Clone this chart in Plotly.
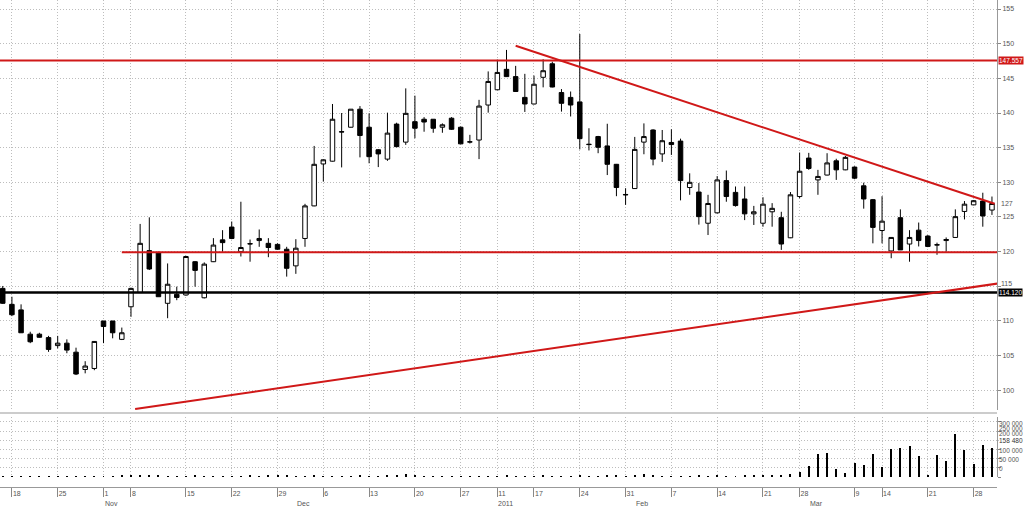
import plotly.graph_objects as go

# ---------------- data ----------------
opens = [114.7, 112.4, 111.6, 108.1, 108.1, 107.6, 106.45, 106.8, 105.5, 103.0,
         103.15, 110.0, 110.0, 107.35, 112.05, 114.1, 120.15, 119.85, 112.55, 113.85,
         113.75, 118.55, 113.35, 118.55, 121.7, 123.55, 120.0, 121.1, 121.6, 121.2,
         121.05, 120.35, 117.95, 121.9, 126.6, 132.65, 133.05, 137.25, 137.95, 140.55,
         137.95, 134.7, 133.35, 138.4, 135.8, 138.75, 139.1, 139.1, 137.95, 139.25,
         137.95, 135.8, 136.1, 141.15, 143.35, 146.3, 145.25, 142.25, 141.3, 145.15,
         147.1, 142.95, 142.25, 141.6, 135.5, 136.6, 135.25, 132.6, 128.25, 129.1,
         135.8, 137.55, 134.1, 135.75, 135.95, 129.25, 128.6, 124.1, 125.6, 130.25,
         128.55, 127.6, 125.45, 124.1, 125.75, 124.9, 122.0, 127.95, 133.5, 130.35,
         131.05, 133.1, 131.8, 132.2, 129.5, 127.5, 123.05, 120.1, 124.9, 121.1,
         123.1, 122.25, 120.95, 121.6, 122.05, 125.8, 126.75, 127.3, 126.0]
highs = [115.05, 113.5, 112.4, 108.45, 108.3, 107.85, 107.85, 107.35, 106.15, 104.2,
         107.1, 110.0, 110.0, 109.05, 114.8, 124.0, 124.95, 120.0, 118.3, 114.95,
         119.4, 118.65, 118.45, 121.95, 123.1, 124.35, 127.2, 121.75, 123.2, 121.95,
         121.2, 120.7, 121.8, 126.9, 135.25, 133.3, 141.3, 140.0, 140.55, 141.0,
         139.95, 134.8, 140.05, 138.6, 143.55, 142.5, 139.4, 139.1, 138.5, 139.4,
         138.05, 136.85, 141.9, 146.0, 147.7, 149.1, 146.8, 145.65, 145.4, 147.75,
         147.4, 143.45, 143.1, 151.4, 137.8, 136.7, 138.45, 132.65, 129.15, 136.55,
         138.5, 137.65, 137.55, 137.65, 136.3, 131.3, 129.9, 128.2, 130.9, 131.7,
         129.4, 129.4, 126.6, 127.85, 127.0, 125.75, 128.6, 134.3, 134.25, 131.8,
         134.2, 133.4, 133.8, 132.3, 129.95, 127.6, 128.0, 122.1, 126.1, 123.1,
         124.2, 122.4, 121.3, 122.05, 126.1, 127.3, 127.45, 128.5, 127.95]
lows = [112.45, 110.7, 108.3, 106.8, 107.6, 105.55, 106.05, 105.35, 102.2, 102.45,
        102.9, 106.8, 107.5, 107.25, 110.6, 114.05, 117.35, 113.5, 110.4, 113.0,
        113.65, 114.95, 113.25, 118.5, 120.0, 121.8, 119.3, 118.55, 120.7, 119.2,
        120.25, 116.4, 116.8, 120.7, 126.55, 130.1, 133.0, 132.15, 137.9, 133.6,
        132.75, 132.2, 133.1, 135.05, 135.4, 136.35, 137.3, 137.15, 137.15, 137.55,
        135.5, 135.6, 133.35, 140.05, 143.3, 145.2, 143.05, 140.15, 141.25, 143.7,
        143.7, 140.2, 139.5, 134.75, 134.6, 134.2, 131.05, 128.0, 126.75, 129.05,
        134.05, 132.45, 132.95, 133.95, 127.4, 128.2, 123.9, 122.4, 125.5, 127.2,
        126.5, 124.55, 123.85, 123.6, 123.6, 120.25, 121.95, 127.7, 131.8, 128.2,
        131.0, 130.35, 131.75, 130.45, 126.2, 121.2, 121.2, 119.05, 120.25, 118.55,
        120.75, 120.65, 119.55, 120.0, 122.0, 124.65, 126.7, 123.6, 125.3]
closes = [112.55, 110.9, 108.3, 107.0, 107.65, 105.9, 106.8, 105.8, 102.35, 103.5,
          107.05, 109.2, 108.3, 108.3, 114.7, 121.2, 117.5, 113.5, 115.3, 113.4,
          119.3, 117.3, 118.2, 120.95, 121.3, 121.9, 120.6, 121.15, 121.9, 120.6,
          120.35, 117.6, 120.5, 126.6, 132.6, 133.25, 139.1, 137.3, 140.55, 136.75,
          133.7, 134.1, 137.1, 135.15, 139.95, 137.8, 138.7, 137.8, 138.3, 137.65,
          135.55, 135.85, 141.0, 144.55, 145.85, 145.25, 143.1, 141.3, 144.15, 146.1,
          143.75, 141.4, 141.15, 136.3, 135.45, 135.05, 132.6, 129.25, 128.2, 134.75,
          136.6, 133.35, 136.0, 135.45, 130.25, 130.0, 125.05, 126.95, 130.35, 127.95,
          126.65, 125.45, 125.75, 126.85, 126.25, 121.1, 128.2, 131.6, 132.0, 130.85,
          132.8, 131.8, 133.6, 130.6, 127.6, 123.5, 124.4, 122.05, 120.25, 122.05,
          121.6, 120.75, 121.0, 121.75, 125.05, 126.85, 127.35, 125.15, 126.95]
volumes = [4000, 3000, 5000, 3000, 2000, 4000, 3000, 5000, 4000, 3000,
           4000, 3000, 5000, 6000, 8000, 12000, 6000, 7000, 5000, 4000,
           3000, 6000, 5000, 4000, 5000, 3000, 4000, 6000, 5000, 7000,
           8000, 6000, 5000, 4000, 6000, 5000, 4000, 3000, 5000, 6000,
           4000, 5000, 7000, 8000, 14000, 6000, 5000, 4000, 3000, 5000,
           4000, 3000, 4000, 5000, 4000, 6000, 5000, 3000, 4000, 8000,
           5000, 4000, 3000, 6000, 4000, 5000, 8000, 6000, 5000, 12000,
           18000, 6000, 5000, 4000, 3000, 5000, 6000, 4000, 9000, 5000,
           4000, 6000, 8000, 6000, 9000, 12000, 15000, 27000, 58000, 127000,
           133000, 45000, 22000, 76000, 67000, 127000, 55000, 151000, 158000, 167000,
           113000, 10000, 118000, 87000, 236000, 145000, 73000, 173000, 158480]

tick_pos = [1, 6, 11, 14, 20, 25, 30, 35, 40, 45, 50, 54, 58, 63, 68, 73, 78, 83, 87, 93, 96, 101, 106]
tick_text = ["18", "25", "1", "8", "15", "22", "29", "6", "13", "20", "27", "11",
             "17", "24", "31", "7", "14", "21", "28", "9", "14", "21", "28"]
month_pos = [11, 32, 54, 69, 88]
month_text = ["Nov", "Dec", "2011", "Feb", "Mar"]

price_ticks = [100, 105, 110, 115, 120, 125, 130, 135, 140, 145, 150, 155]
price_tick_text = ["100", "105", "110", "", "120", "125", "130", "135", "140", "145", "150", "155"]
vol_ticks = [0, 50000, 100000, 150000, 200000, 250000, 300000]
# volume labels as drawn (stacked upward from the panel bottom, as in the reference)
vol_label_text = ["0", "50 000", "100 000", "200 000", "250 000", "300 000"]
vol_label_row = [468, 459, 450, 433, 428, 423]

resistance = 147.557
black_level = 114.12
support = 119.9
support_start = 13
down_trend_x = [56.0, 108.3]
down_trend_y = [149.7, 126.9]
up_trend_x = [14.45, 108.6]
up_trend_y = [97.3, 115.4]
last_price_label = "127"
last_price_value = 127.0
last_volume_label = "158 480"

x = list(range(len(opens)))
XR = [-0.3, 108.55]

W, H = 1024, 511
def pf(py):  # pixel row -> paper fraction
    return 1 - py / H

fig = go.Figure()
fig.add_trace(go.Candlestick(
    x=x, open=opens, high=highs, low=lows, close=closes,
    increasing=dict(line=dict(color="black", width=1), fillcolor="white"),
    decreasing=dict(line=dict(color="black", width=1), fillcolor="black"),
    whiskerwidth=0, xaxis="x", yaxis="y", showlegend=False))
fig.add_trace(go.Bar(x=x, y=volumes, marker=dict(color="black", line=dict(width=0)),
                     width=0.11, xaxis="x2", yaxis="y2", showlegend=False))

grid = dict(showgrid=True, gridcolor="#bdbdbd", griddash="1px,2px", gridwidth=1)
font = dict(family="Liberation Sans, Arial, sans-serif", size=8, color="#555555")
sfont = dict(family="Liberation Sans, Arial, sans-serif", size=7, color="#555555")
tfont = dict(family="Liberation Sans, Arial, sans-serif", size=6.5, color="#555555")

fig.update_layout(
    width=W, height=H, margin=dict(l=0, r=27, t=0, b=0, autoexpand=False),
    paper_bgcolor="white", plot_bgcolor="white", font=font,
    xaxis=dict(domain=[0, 1], range=XR, anchor="y", tickvals=tick_pos, showticklabels=False,
               ticks="", rangeslider=dict(visible=False), zeroline=False, automargin=False,
               **grid),
    xaxis2=dict(domain=[0, 1], range=XR, anchor="y2", matches="x", tickvals=tick_pos,
                showticklabels=False, ticks="", zeroline=False, automargin=False, **grid),
    xaxis3=dict(domain=[0, 1], range=XR, anchor="free", position=pf(487), overlaying="x",
                tickvals=tick_pos, ticktext=tick_text, ticks="outside", ticklen=9,
                tickcolor="#888888", showline=True, linecolor="#999999",
                ticklabelposition="outside right", showgrid=False, zeroline=False,
                tickfont=sfont, automargin=False),
    yaxis=dict(domain=[pf(410), 1], range=[97.16, 156.3], side="right", tickvals=price_ticks,
               ticktext=price_tick_text, tickfont=sfont,
               ticks="outside", ticklen=3, tickcolor="#888888", showline=True,
               linecolor="#999999", zeroline=False, automargin=False, **grid),
    yaxis2=dict(domain=[pf(477), pf(417)], range=[0, 327000], side="right", tickvals=vol_ticks,
                showticklabels=False, ticks="outside", ticklen=3, tickcolor="#888888",
                showline=True, linecolor="#999999", zeroline=False, automargin=False, **grid),
    bargap=0,
)
fig.add_trace(go.Scatter(x=[XR[0]], y=[None], xaxis="x3", yaxis="y", showlegend=False,
                         hoverinfo="skip"))

red = "#d01818"
shapes = [
    dict(type="line", xref="x", yref="y", x0=XR[0], x1=XR[1], y0=resistance, y1=resistance,
         line=dict(color=red, width=2)),
    dict(type="line", xref="x", yref="y", x0=XR[0], x1=XR[1], y0=black_level, y1=black_level,
         line=dict(color="black", width=2.5)),
    dict(type="line", xref="x", yref="y", x0=support_start, x1=XR[1], y0=support, y1=support,
         line=dict(color=red, width=2)),
    dict(type="line", xref="x", yref="y", x0=down_trend_x[0], x1=down_trend_x[1],
         y0=down_trend_y[0], y1=down_trend_y[1], line=dict(color=red, width=2)),
    dict(type="line", xref="x", yref="y", x0=up_trend_x[0], x1=up_trend_x[1],
         y0=up_trend_y[0], y1=up_trend_y[1], line=dict(color=red, width=2)),
    dict(type="line", xref="paper", yref="paper", x0=0, x1=1, y0=pf(413), y1=pf(413),
         line=dict(color="#999999", width=1)),
]
fig.update_layout(shapes=shapes)

ann = [
    dict(x=1, xref="paper", xanchor="left", xshift=1, y=resistance, yref="y", yanchor="middle",
         text="147.557", showarrow=False, bgcolor=red,
         font=dict(family=sfont["family"], color="white", size=6.5), borderpad=0),
    dict(x=1, xref="paper", xanchor="left", xshift=1, y=black_level, yref="y", yanchor="middle",
         text="114.120", showarrow=False, bgcolor="black",
         font=dict(family=sfont["family"], color="white", size=6.5), borderpad=0),
    dict(x=1, xref="paper", xanchor="left", xshift=3, y=pf(283), yref="paper", yanchor="middle",
         text="115", showarrow=False, font=sfont, borderpad=0),
    dict(x=1, xref="paper", xanchor="left", xshift=3, y=last_price_value, yref="y",
         yanchor="middle", text=last_price_label, showarrow=False, font=sfont, borderpad=0),
]
for t, r in zip(vol_label_text, vol_label_row):
    ann.append(dict(x=1, xref="paper", xanchor="left", xshift=1, y=pf(r), yref="paper",
                    yanchor="middle", text=t, showarrow=False, font=tfont, borderpad=0))
ann.append(dict(x=1, xref="paper", xanchor="left", xshift=1, y=pf(440), yref="paper",
                yanchor="middle", text=last_volume_label, showarrow=False,
                font=dict(family=tfont["family"], size=6.5, color="#333333"),
                bgcolor="white", borderpad=0))
for p, t in zip(month_pos, month_text):
    ann.append(dict(x=p, xref="x", xanchor="left", y=pf(503), yref="paper", yanchor="middle",
                    text=t, showarrow=False, font=sfont, borderpad=0))
fig.update_layout(annotations=ann)

fig.write_html("out.html")
